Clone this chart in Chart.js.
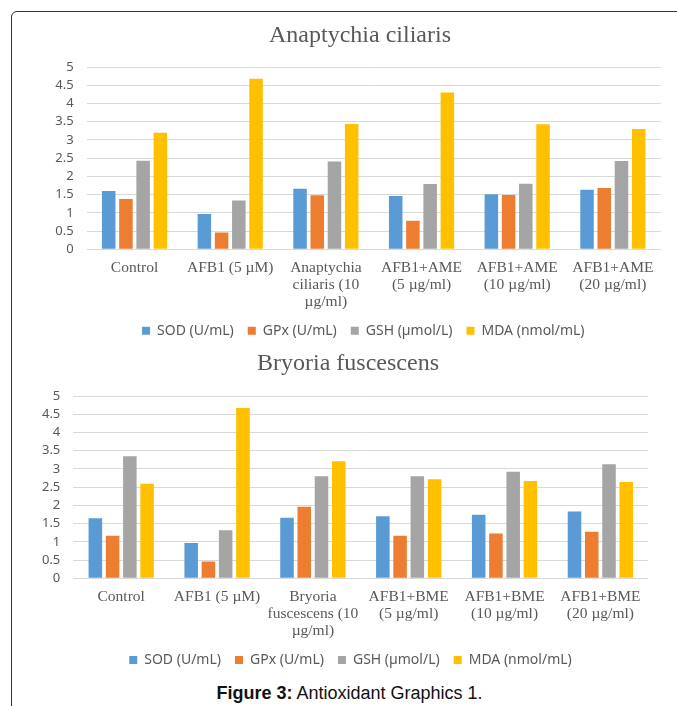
<!DOCTYPE html>
<html>
<head>
<meta charset="utf-8">
<script src="https://cdn.jsdelivr.net/npm/chart.js@4"></script>
<style>
  html, body { margin: 0; padding: 0; background: #fff; }
  body { width: 677px; height: 706px; position: relative; overflow: hidden; }
  .frame {
    position: absolute; left: 11px; top: 11px; width: 720px; height: 760px;
    border: 1.5px solid #333; border-top-left-radius: 6px; box-sizing: border-box;
  }
  canvas { position: absolute; }
  #c1 { left: 12px; top: 12px; }
  #c2 { left: 12px; top: 348px; }
  .caption {
    position: absolute; left: 0; width: 699px; top: 683px; text-align: center;
    font-family: "Liberation Sans", Arial, sans-serif; font-size: 18px; color: #111;
  }
</style>
</head>
<body>
<div class="frame"></div>
<canvas id="c1" width="665" height="336"></canvas>
<canvas id="c2" width="665" height="330"></canvas>
<div class="caption"><b>Figure 3:</b> Antioxidant Graphics 1.</div>
<script>
// Series names shared by both panels
const seriesNames = ['SOD (U/mL)', 'GPx (U/mL)', 'GSH (µmol/L)', 'MDA (nmol/mL)'];
const seriesColors = ['#5B9BD5', '#ED7D31', '#A5A5A5', '#FFC000'];

// Panel 1: Anaptychia ciliaris
const titleA = 'Anaptychia ciliaris';
const categoriesA = [
  ['Control'],
  ['AFB1 (5 µM)'],
  ['Anaptychia', 'ciliaris (10', 'µg/ml)'],
  ['AFB1+AME', '(5 µg/ml)'],
  ['AFB1+AME', '(10 µg/ml)'],
  ['AFB1+AME', '(20 µg/ml)']
];
const sodA = [1.60, 0.97, 1.66, 1.46, 1.51, 1.63];
const gpxA = [1.38, 0.46, 1.48, 0.78, 1.49, 1.68];
const gshA = [2.43, 1.34, 2.41, 1.79, 1.80, 2.42];
const mdaA = [3.20, 4.68, 3.44, 4.30, 3.43, 3.30];

// Panel 2: Bryoria fuscescens
const titleB = 'Bryoria fuscescens';
const categoriesB = [
  ['Control'],
  ['AFB1 (5 µM)'],
  ['Bryoria', 'fuscescens (10', 'µg/ml)'],
  ['AFB1+BME', '(5 µg/ml)'],
  ['AFB1+BME', '(10 µg/ml)'],
  ['AFB1+BME', '(20 µg/ml)']
];
const sodB = [1.65, 0.97, 1.66, 1.70, 1.74, 1.83];
const gpxB = [1.17, 0.46, 1.96, 1.17, 1.23, 1.28];
const gshB = [3.35, 1.32, 2.80, 2.80, 2.92, 3.13];
const mdaB = [2.59, 4.67, 3.21, 2.72, 2.67, 2.64];

// Value axis ticks
const yMin = 0, yMax = 5, yStep = 0.5;

const grey = '#595959';

// Nudges the title and legend boxes sideways after layout so they centre
// on the plot rather than on the whole canvas.
const boxShift = {
  id: 'boxShift',
  afterLayout(chart, args, opts) {
    if (chart.titleBlock) { chart.titleBlock.left += opts.title; chart.titleBlock.right += opts.title; }
    if (chart.legend) { chart.legend.left += opts.legend; chart.legend.right += opts.legend; }
  }
};

function buildChart(id, title, categories, seriesValues, geo) {
  const datasets = seriesValues.map((vals, i) => ({
    label: seriesNames[i],
    data: vals,
    backgroundColor: seriesColors[i],
    borderWidth: 0,
    categoryPercentage: 0.72,
    barPercentage: 0.785
  }));
  return new Chart(document.getElementById(id), {
    type: 'bar',
    data: { labels: categories, datasets },
    plugins: [boxShift],
    options: {
      responsive: false,
      animation: false,
      devicePixelRatio: 1,
      layout: { padding: { left: geo.padLeft, right: geo.padRight, top: 0, bottom: geo.padBottom } },
      plugins: {
        boxShift: { title: geo.titleShift, legend: geo.legendShift },
        title: {
          display: true,
          text: title,
          color: grey,
          font: { family: '"Liberation Serif", "Times New Roman", serif', size: 24, weight: 'normal', lineHeight: 1.2 },
          padding: { top: geo.titleTop, bottom: geo.titleBottom }
        },
        legend: {
          position: 'bottom',
          labels: {
            boxWidth: 8, boxHeight: 8, padding: 14, color: grey,
            font: { family: '"Noto Sans", sans-serif', size: 14 }
          }
        },
        tooltip: { enabled: false }
      },
      scales: {
        x: {
          grid: { display: false },
          border: { display: false },
          ticks: {
            color: grey, autoSkip: false, maxRotation: 0, minRotation: 0, padding: 2,
            font: { family: '"Liberation Serif", "Times New Roman", serif', size: 15.5, lineHeight: 1.097 }
          },
          afterFit(scale) { scale.height = geo.xHeight; }
        },
        y: {
          min: yMin, max: yMax,
          grid: { color: '#d9d9d9', lineWidth: 1, drawTicks: false },
          border: { display: false },
          ticks: {
            stepSize: yStep, autoSkip: false, color: grey, padding: 13,
            font: { family: '"Noto Sans", sans-serif', size: 13 },
            callback: v => String(v)
          },
          afterFit(scale) { scale.width = geo.yWidth; }
        }
      }
    }
  });
}

buildChart('c1', titleA, categoriesA, [sodA, gpxA, gshA, mdaA], {
  padLeft: 38.7, padRight: 16.3, padBottom: 0.3, titleTop: 9.6, titleBottom: 16.6,
  xHeight: 60.4, yWidth: 36, titleShift: 4.3, legendShift: 7.6
});
buildChart('c2', titleB, categoriesB, [sodB, gpxB, gshB, mdaB], {
  padLeft: 25.3, padRight: 28.7, padBottom: 1, titleTop: 1.6, titleBottom: 17.6,
  xHeight: 60.7, yWidth: 36, titleShift: 5.2, legendShift: 7.7
});
</script>
</body>
</html>
